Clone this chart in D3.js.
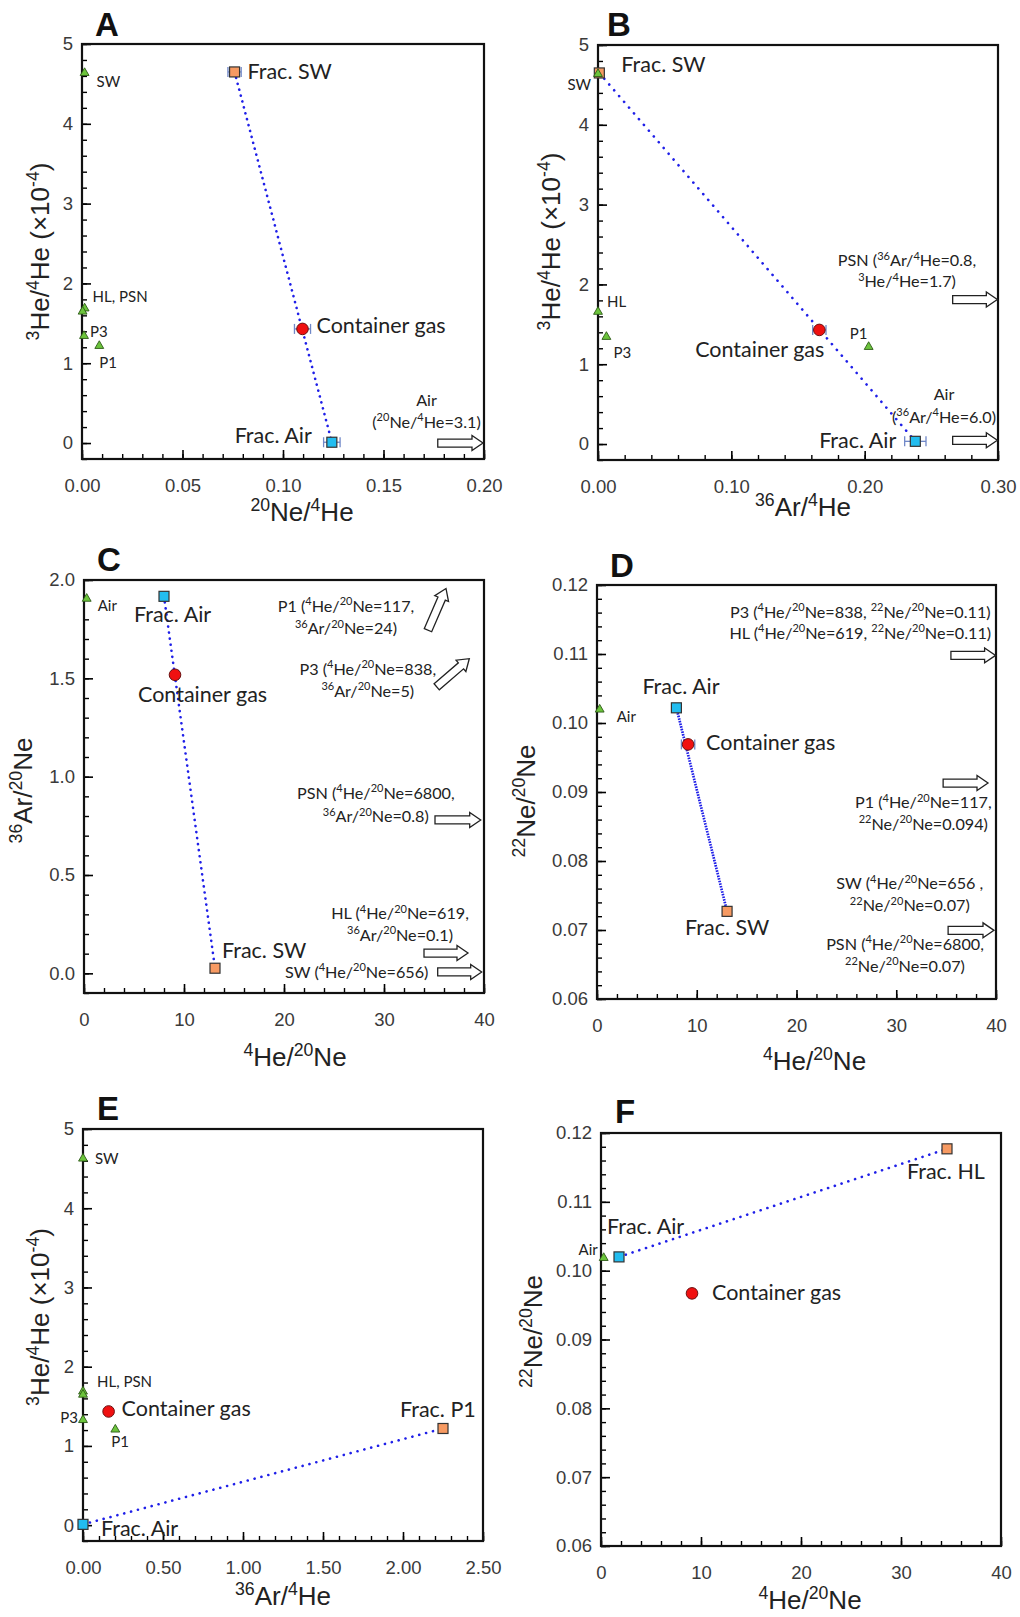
<!DOCTYPE html>
<html>
<head>
<meta charset="utf-8">
<script src="https://cdn.jsdelivr.net/npm/d3@7"></script>
<style>
  body { margin: 0; background: #fff; }
  text { white-space: pre; }
</style>
</head>
<body>
<svg id="fig" width="1020" height="1617"></svg>
<script>
// ---------- data ----------
// end-members = green triangles, frac = fractionated end-members (squares),
// gas = container gas (red circle); err = half width of the x error bar

// A: 3He/4He (x10^-4) vs 20Ne/4He
var A_end = [{name: "SW", x: 0.0013, y: 4.65}, {name: "HL", x: 0.0013, y: 1.70},
  {name: "PSN", x: 0.0003, y: 1.66}, {name: "P3", x: 0.0010, y: 1.355}, {name: "P1", x: 0.0086, y: 1.23}];
var A_frac = [{name: "Frac. SW", x: 0.0759, y: 4.65, err: 0.0033}, {name: "Frac. Air", x: 0.1243, y: 0.01, err: 0.0041}];
var A_gas = [{name: "gas", x: 0.1097, y: 1.43, err: 0.004}];
var A_arrows = [{x1: 0.177, y1: 0, x2: 0.1995, y2: 0}];
var A_xTicks = [0, 0.05, 0.10, 0.15, 0.20];
var A_yTicks = [0, 1, 2, 3, 4, 5];

// B: 3He/4He (x10^-4) vs 36Ar/4He
var B_end = [{name: "SW", x: 0, y: 4.65}, {name: "HL", x: 0, y: 1.67},
  {name: "P3", x: 0.0063, y: 1.356}, {name: "P1", x: 0.203, y: 1.23}];
var B_frac = [{name: "Frac. SW", x: 0.001, y: 4.65, err: 0}, {name: "Frac. Air", x: 0.238, y: 0.034, err: 0.008}];
var B_gas = [{name: "gas", x: 0.166, y: 1.43, err: 0.005}];
var B_arrows = [{x1: 0.266, y1: 1.81, x2: 0.2995, y2: 1.81}, {x1: 0.266, y1: 0.047, x2: 0.2995, y2: 0.047}];
var B_xTicks = [0, 0.10, 0.20, 0.30];
var B_yTicks = [0, 1, 2, 3, 4, 5];

// C: 36Ar/20Ne vs 4He/20Ne
var C_end = [{name: "Air", x: 0.27, y: 1.91}];
var C_frac = [{name: "Frac. Air", x: 8.0, y: 1.917, err: 0}, {name: "Frac. SW", x: 13.1, y: 0.026, err: 0}];
var C_gas = [{name: "gas", x: 9.1, y: 1.518, err: 0.35}];
var C_arrows = [{x1: 34.4, y1: 1.745, x2: 36.2, y2: 1.957}, {x1: 35.27, y1: 1.457, x2: 38.53, y2: 1.60},
  {x1: 35.1, y1: 0.78, x2: 39.67, y2: 0.78}, {x1: 34.0, y1: 0.103, x2: 38.4, y2: 0.103},
  {x1: 35.37, y1: 0.007, x2: 39.77, y2: 0.007}];
var C_xTicks = [0, 10, 20, 30, 40];
var C_yTicks = [0, 0.5, 1.0, 1.5, 2.0];

// D: 22Ne/20Ne vs 4He/20Ne
var D_end = [{name: "Air", x: 0.27, y: 0.1021}];
var D_frac = [{name: "Frac. Air", x: 7.96, y: 0.1022, err: 0}, {name: "Frac. SW", x: 13.04, y: 0.0727, err: 0}];
var D_gas = [{name: "gas", x: 9.13, y: 0.0969, err: 0.67}];
var D_arrows = [{x1: 35.48, y1: 0.1098, x2: 39.96, y2: 0.1098}, {x1: 34.7, y1: 0.0913, x2: 39.2, y2: 0.0913},
  {x1: 35.2, y1: 0.06995, x2: 39.8, y2: 0.06995}];
var D_xTicks = [0, 10, 20, 30, 40];
var D_yTicks = [0.06, 0.07, 0.08, 0.09, 0.10, 0.11, 0.12];

// E: 3He/4He (x10^-4) vs 36Ar/4He
var E_end = [{name: "SW", x: 0, y: 4.64}, {name: "HL", x: 0, y: 1.70}, {name: "PSN", x: 0, y: 1.66},
  {name: "P3", x: 0, y: 1.34}, {name: "P1", x: 0.202, y: 1.22}];
var E_frac = [{name: "Frac. Air", x: 0, y: 0.01, err: 0}, {name: "Frac. P1", x: 2.25, y: 1.22, err: 0}];
var E_gas = [{name: "gas", x: 0.16, y: 1.435, err: 0}];
var E_arrows = [];
var E_xTicks = [0, 0.5, 1.0, 1.5, 2.0, 2.5];
var E_yTicks = [0, 1, 2, 3, 4, 5];

// F: 22Ne/20Ne vs 4He/20Ne
var F_end = [{name: "Air", x: 0.27, y: 0.102}];
var F_frac = [{name: "Frac. Air", x: 1.8, y: 0.102, err: 0}, {name: "Frac. HL", x: 34.6, y: 0.1177, err: 0}];
var F_gas = [{name: "gas", x: 9.1, y: 0.0967, err: 0.3}];
var F_arrows = [];
var F_xTicks = [0, 10, 20, 30, 40];
var F_yTicks = [0.06, 0.07, 0.08, 0.09, 0.10, 0.11, 0.12];

// ---------- layout ----------
var panels = [
  {id: "A", left: 82, top: 44, w: 402, h: 415, xDom: [0, 0.2], yDom: [-0.2, 5],
   xTicks: A_xTicks, yTicks: A_yTicks, xSub: 5, ySub: 5, xFmt: ".2f", yFmt: "d",
   end: A_end, frac: A_frac, gas: A_gas, arrows: A_arrows, dash: "0.1,6", cap: "round",
   xTitle: "^{20}Ne/^{4}He", xtDx: 19, xtDy: 62,
   yTitle: "^{3}He/^{4}He (×10^{-4})", ytDx: -33, ytDy: 0,
   letter: [95, 36],
   labels: [{of: "SW", t: "SW", dx: 12, dy: 15}, {of: "HL", t: "HL, PSN", dx: 8, dy: -5},
     {of: "P3", t: "P3", dx: 6, dy: 2}, {of: "P1", t: "P1", dx: 0, dy: 23},
     {of: "Frac. SW", t: "Frac. SW", dx: 13, dy: 7, big: 1},
     {of: "gas", t: "Container gas", dx: 14, dy: 4, big: 1},
     {of: "Frac. Air", t: "Frac. Air", dx: -20, dy: 1, big: 1, end: 1}],
   notes: [{x: 344.5, y: [361.6, 383.6], lines: ["Air", "(^{20}Ne/^{4}He=3.1)"]}]},
  {id: "B", left: 598, top: 45, w: 400, h: 415, xDom: [0, 0.3], yDom: [-0.2, 5],
   xTicks: B_xTicks, yTicks: B_yTicks, xSub: 5, ySub: 5, xFmt: ".2f", yFmt: "d",
   end: B_end, frac: B_frac, gas: B_gas, arrows: B_arrows, dash: "0.1,7.5", cap: "round",
   xTitle: "^{36}Ar/^{4}He", xtDx: 5, xtDy: 56,
   yTitle: "^{3}He/^{4}He (×10^{-4})", ytDx: -38, ytDy: -11,
   letter: [607, 36],
   labels: [{of: "SW", t: "SW", dx: -7, dy: 17, end: 1}, {of: "Frac. SW", t: "Frac. SW", dx: 22, dy: -1, big: 1},
     {of: "HL", t: "HL", dx: 9, dy: -4}, {of: "P3", t: "P3", dx: 7, dy: 22},
     {of: "P1", t: "P1", dx: -19, dy: -7},
     {of: "gas", t: "Container gas", dx: 5, dy: 27, big: 1, end: 1},
     {of: "Frac. Air", t: "Frac. Air", dx: -19, dy: 7, big: 1, end: 1}],
   notes: [{x: 309, y: [221.4, 242.3], lines: ["PSN (^{36}Ar/^{4}He=0.8,", "^{3}He/^{4}He=1.7)"]},
     {x: 346, y: [354.9, 377.5], lines: ["Air", "(^{36}Ar/^{4}He=6.0)"]}]},
  {id: "C", left: 84, top: 580, w: 400, h: 413, xDom: [0, 40], yDom: [-0.1, 2.0],
   xTicks: C_xTicks, yTicks: C_yTicks, xSub: 5, ySub: 5, xFmt: "d", yFmt: ".1f",
   end: C_end, frac: C_frac, gas: C_gas, arrows: C_arrows, dash: "0.1,6", cap: "round",
   xTitle: "^{4}He/^{20}Ne", xtDx: 11, xtDy: 73,
   yTitle: "^{36}Ar/^{20}Ne", ytDx: -52, ytDy: 4,
   letter: [97, 571],
   labels: [{of: "Air", t: "Air", dx: 11, dy: 13}, {of: "Frac. Air", t: "Frac. Air", dx: -30, dy: 26, big: 1},
     {of: "gas", t: "Container gas", dx: -37, dy: 27, big: 1},
     {of: "Frac. SW", t: "Frac. SW", dx: 7, dy: -10, big: 1}],
   notes: [{x: 262, y: [31.7, 54], lines: ["P1 (^{4}He/^{20}Ne=117,", "^{36}Ar/^{20}Ne=24)"]},
     {x: 283.8, y: [94.5, 116.5], lines: ["P3 (^{4}He/^{20}Ne=838,", "^{36}Ar/^{20}Ne=5)"]},
     {x: 291.8, y: [218.6, 242.2], lines: ["PSN (^{4}He/^{20}Ne=6800,", "^{36}Ar/^{20}Ne=0.8)"]},
     {x: 316, y: [339.2, 360.5], lines: ["HL (^{4}He/^{20}Ne=619,", "^{36}Ar/^{20}Ne=0.1)"]},
     {x: 272.7, y: [397.7], lines: ["SW (^{4}He/^{20}Ne=656)"]}]},
  {id: "D", left: 597, top: 585, w: 399, h: 414, xDom: [0, 40], yDom: [0.06, 0.12],
   xTicks: D_xTicks, yTicks: D_yTicks, xSub: 5, ySub: 5, xFmt: "d", yFmt: ".2f",
   end: D_end, frac: D_frac, gas: D_gas, arrows: D_arrows, dash: "1.6,1.1", cap: "butt",
   xTitle: "^{4}He/^{20}Ne", xtDx: 18, xtDy: 71,
   yTitle: "^{22}Ne/^{20}Ne", ytDx: -62, ytDy: 9,
   letter: [610, 577],
   labels: [{of: "Air", t: "Air", dx: 17, dy: 13}, {of: "Frac. Air", t: "Frac. Air", dx: -34, dy: -14, big: 1},
     {of: "gas", t: "Container gas", dx: 18, dy: 6, big: 1},
     {of: "Frac. SW", t: "Frac. SW", dx: -42, dy: 24, big: 1}],
   notes: [{x: 263.3, y: [32.7, 53.7], lines: ["P3 (^{4}He/^{20}Ne=838, ^{22}Ne/^{20}Ne=0.11)", "HL (^{4}He/^{20}Ne=619, ^{22}Ne/^{20}Ne=0.11)"]},
     {x: 326.3, y: [223, 244.7], lines: ["P1 (^{4}He/^{20}Ne=117,", "^{22}Ne/^{20}Ne=0.094)"]},
     {x: 312.8, y: [304.2, 326.1], lines: ["SW (^{4}He/^{20}Ne=656 ,", "^{22}Ne/^{20}Ne=0.07)"]},
     {x: 308, y: [364.7, 386.6], lines: ["PSN (^{4}He/^{20}Ne=6800,", "^{22}Ne/^{20}Ne=0.07)"]}]},
  {id: "E", left: 83, top: 1129, w: 400, h: 412, xDom: [0, 2.5], yDom: [-0.2, 5],
   xTicks: E_xTicks, yTicks: E_yTicks, xSub: 5, ySub: 5, xFmt: ".2f", yFmt: "d",
   end: E_end, frac: E_frac, gas: E_gas, arrows: E_arrows, dash: "0.1,7", cap: "round",
   xTitle: "^{36}Ar/^{4}He", xtDx: 0, xtDy: 64,
   yTitle: "^{3}He/^{4}He (×10^{-4})", ytDx: -34, ytDy: -18,
   letter: [97, 1120],
   labels: [{of: "SW", t: "SW", dx: 12, dy: 6}, {of: "HL", t: "HL, PSN", dx: 14, dy: -3},
     {of: "P3", t: "P3", dx: -5, dy: 4, end: 1}, {of: "P1", t: "P1", dx: -4, dy: 19},
     {of: "gas", t: "Container gas", dx: 13, dy: 5, big: 1},
     {of: "Frac. P1", t: "Frac. P1", dx: -43, dy: -11, big: 1},
     {of: "Frac. Air", t: "Frac. Air", dx: 18, dy: 12, big: 1}],
   notes: []},
  {id: "F", left: 601, top: 1133, w: 400, h: 413, xDom: [0, 40], yDom: [0.06, 0.12],
   xTicks: F_xTicks, yTicks: F_yTicks, xSub: 5, ySub: 5, xFmt: "d", yFmt: ".2f",
   end: F_end, frac: F_frac, gas: F_gas, arrows: F_arrows, dash: "0.1,7", cap: "round",
   xTitle: "^{4}He/^{20}Ne", xtDx: 9, xtDy: 63,
   yTitle: "^{22}Ne/^{20}Ne", ytDx: -59, ytDy: -8,
   letter: [615, 1123],
   labels: [{of: "Air", t: "Air", dx: -6, dy: -2, end: 1}, {of: "Frac. Air", t: "Frac. Air", dx: -12, dy: -23, big: 1},
     {of: "gas", t: "Container gas", dx: 20, dy: 7, big: 1},
     {of: "Frac. HL", t: "Frac. HL", dx: -40, dy: 30, big: 1}],
   notes: []}
];

var svg = d3.select("#fig");
var LABEL_FONT = "Lato, 'Open Sans', sans-serif";
var AXIS_FONT = "'Liberation Sans', Arial, sans-serif";

// writes "^{..}" parts as superscripts
function rich(sel, str, size) {
  var shift = 0;
  str.split(/(\^\{[^}]*\})/).forEach(function(p) {
    if (!p) return;
    var sup = p.charAt(0) === "^";
    var target = sup ? -0.4 * size : 0;
    sel.append("tspan")
      .attr("dy", target - shift)
      .attr("font-size", sup ? 0.68 * size : size)
      .text(sup ? p.slice(2, -1) : p);
    shift = target;
  });
}

// minor ticks between the labelled ones
function minorTicks(ticks, sub, dom) {
  var step = (ticks[1] - ticks[0]) / sub, out = [];
  for (var v = ticks[0] - step * 20; v <= dom[1] + 1e-9; v += step) {
    var r = Math.round(v / step * 1000) / 1000 * step;
    if (r >= dom[0] - 1e-9 && r <= dom[1] + 1e-9) out.push(r);
  }
  return out;
}

// hollow block arrow from (x1,y1) to (x2,y2) in pixels
function blockArrow(g, x1, y1, x2, y2) {
  var len = Math.hypot(x2 - x1, y2 - y1);
  var ang = Math.atan2(y2 - y1, x2 - x1) * 180 / Math.PI;
  var s = 4, h = 7.5, hl = 11;
  g.append("path")
    .attr("d", "M0," + (-s) + "L" + (len - hl) + "," + (-s) + "L" + (len - hl) + "," + (-h) +
      "L" + len + ",0L" + (len - hl) + "," + h + "L" + (len - hl) + "," + s + "L0," + s + "Z")
    .attr("transform", "translate(" + x1 + "," + y1 + ") rotate(" + ang + ")")
    .attr("fill", "#fff")
    .attr("stroke", "#222")
    .attr("stroke-width", 1.3);
}

panels.forEach(function(P) {
  var g = svg.append("g").attr("transform", "translate(" + P.left + "," + P.top + ")");
  var x = d3.scaleLinear().domain(P.xDom).range([0, P.w]);
  var y = d3.scaleLinear().domain(P.yDom).range([P.h, 0]);

  // minor ticks
  g.append("g").attr("transform", "translate(0," + P.h + ")")
    .call(d3.axisBottom(x).tickValues(minorTicks(P.xTicks, P.xSub, P.xDom)).tickSize(-5).tickFormat(""))
    .call(function(a) { a.select(".domain").remove(); a.selectAll("line").attr("stroke-width", 1.4); });
  g.append("g")
    .call(d3.axisLeft(y).tickValues(minorTicks(P.yTicks, P.ySub, P.yDom)).tickSize(-5).tickFormat(""))
    .call(function(a) { a.select(".domain").remove(); a.selectAll("line").attr("stroke-width", 1.4); });

  // major ticks + labels
  var xa = g.append("g").attr("transform", "translate(0," + P.h + ")")
    .call(d3.axisBottom(x).tickValues(P.xTicks).tickSize(-9).tickPadding(20).tickFormat(d3.format(P.xFmt)));
  var ya = g.append("g")
    .call(d3.axisLeft(y).tickValues(P.yTicks).tickSize(-9).tickPadding(9).tickFormat(d3.format(P.yFmt)));
  [xa, ya].forEach(function(a) {
    a.select(".domain").remove();
    a.selectAll("line").attr("stroke-width", 1.6);
    a.selectAll("text").attr("font-size", 18.5).attr("font-family", AXIS_FONT).attr("fill", "#3a3a3a");
  });

  // frame
  g.append("rect").attr("width", P.w).attr("height", P.h)
    .attr("fill", "none").attr("stroke", "#111").attr("stroke-width", 2.2);

  // axis titles
  var xt = g.append("text").attr("x", P.w / 2 + P.xtDx).attr("y", P.h + P.xtDy)
    .attr("text-anchor", "middle").attr("font-family", AXIS_FONT).attr("fill", "#222");
  rich(xt, P.xTitle, 26);
  var yt = g.append("text")
    .attr("transform", "translate(" + P.ytDx + "," + (P.h / 2 + P.ytDy) + ") rotate(-90)")
    .attr("text-anchor", "middle").attr("font-family", AXIS_FONT).attr("fill", "#222");
  rich(yt, P.yTitle, 26);

  // panel letter
  svg.append("text").attr("x", P.letter[0]).attr("y", P.letter[1])
    .attr("font-family", AXIS_FONT).attr("font-weight", "bold").attr("font-size", 33)
    .attr("fill", "#111").text(P.id);

  // mixing line between the two fractionated end-members
  g.append("line")
    .attr("x1", x(P.frac[0].x)).attr("y1", y(P.frac[0].y))
    .attr("x2", x(P.frac[1].x)).attr("y2", y(P.frac[1].y))
    .attr("stroke", "#1f1fe8").attr("stroke-width", P.cap === "butt" ? 2.7 : 2.6)
    .attr("stroke-linecap", P.cap).attr("stroke-dasharray", P.dash);

  // error bars
  var withErr = P.frac.concat(P.gas).filter(function(d) { return d.err > 0; });
  var eb = g.selectAll(".err").data(withErr).enter().append("g").attr("stroke", "#7088c8").attr("stroke-width", 1.3);
  eb.append("line").attr("x1", function(d) { return x(d.x - d.err); }).attr("x2", function(d) { return x(d.x + d.err); })
    .attr("y1", function(d) { return y(d.y); }).attr("y2", function(d) { return y(d.y); });
  eb.append("line").attr("x1", function(d) { return x(d.x - d.err); }).attr("x2", function(d) { return x(d.x - d.err); })
    .attr("y1", function(d) { return y(d.y) - 5; }).attr("y2", function(d) { return y(d.y) + 5; });
  eb.append("line").attr("x1", function(d) { return x(d.x + d.err); }).attr("x2", function(d) { return x(d.x + d.err); })
    .attr("y1", function(d) { return y(d.y) - 5; }).attr("y2", function(d) { return y(d.y) + 5; });

  // fractionated end-members
  g.selectAll(".frac").data(P.frac).enter().append("rect")
    .attr("x", function(d) { return x(d.x) - 5; }).attr("y", function(d) { return y(d.y) - 5; })
    .attr("width", 10).attr("height", 10)
    .attr("fill", function(d) { return d.name.indexOf("Air") >= 0 ? "#22bdf0" : "#f79a62"; })
    .attr("stroke", "#333").attr("stroke-width", 1.2);

  // end-members
  g.selectAll(".end").data(P.end).enter().append("path")
    .attr("d", d3.symbol(d3.symbolTriangle, 34))
    .attr("transform", function(d) { return "translate(" + x(d.x) + "," + (y(d.y) + 1) + ")"; })
    .attr("fill", "#6cc43c").attr("stroke", "#2d5a16").attr("stroke-width", 0.9);

  // container gas
  g.selectAll(".gas").data(P.gas).enter().append("circle")
    .attr("cx", function(d) { return x(d.x); }).attr("cy", function(d) { return y(d.y); })
    .attr("r", 5.8).attr("fill", "#f01010").attr("stroke", "#6a1010").attr("stroke-width", 1);

  // arrows for end-members off the scale
  P.arrows.forEach(function(a) { blockArrow(g, x(a.x1), y(a.y1), x(a.x2), y(a.y2)); });

  // point labels
  var all = P.end.concat(P.frac, P.gas);
  P.labels.forEach(function(L) {
    var d = all.filter(function(p) { return p.name === L.of; })[0];
    g.append("text").attr("x", x(d.x) + L.dx).attr("y", y(d.y) + L.dy)
      .attr("text-anchor", L.end ? "end" : "start")
      .attr("font-family", LABEL_FONT).attr("font-size", L.big ? 21.5 : 15)
      .attr("fill", "#222").text(L.t);
  });

  // notes next to the arrows
  P.notes.forEach(function(n) {
    n.lines.forEach(function(line, i) {
      var t = g.append("text").attr("x", n.x).attr("y", n.y[i])
        .attr("text-anchor", "middle").attr("font-family", LABEL_FONT).attr("fill", "#222");
      rich(t, line, 16.2);
    });
  });
});
</script>
</body>
</html>
